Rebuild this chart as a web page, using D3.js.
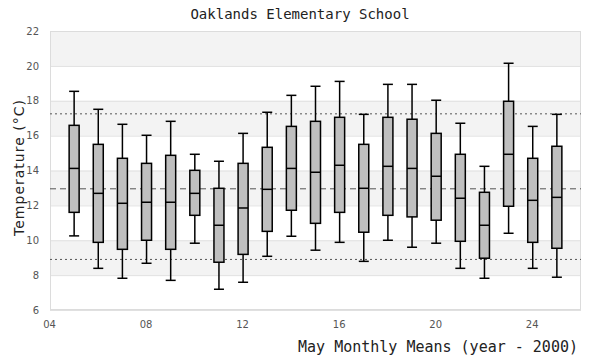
<!DOCTYPE html>
<html><head><meta charset="utf-8">
<script src="https://cdn.jsdelivr.net/npm/d3@7"></script>
<style>body{margin:0;background:#fff}svg{display:block}</style>
</head><body><svg id="c" width="600" height="360"></svg>
<script>
const years   = [5,6,7,8,9,10,11,12,13,14,15,16,17,18,19,20,21,22,23,24,25];
const whiskLo = [10.25,8.39,7.82,8.68,7.70,9.83,7.19,7.59,9.08,10.23,9.43,9.88,8.79,10.0,9.60,9.83,8.39,7.82,10.40,8.39,7.88];
const q1      = [11.60,9.88,9.48,10.0,9.48,11.43,8.74,9.19,10.51,11.72,10.97,11.60,10.46,11.43,11.34,11.15,9.94,8.97,11.95,9.88,9.54];
const medians = [14.12,12.69,12.12,12.18,12.18,12.69,10.86,11.85,12.92,14.12,13.90,14.30,12.98,14.24,14.12,13.67,12.41,10.86,14.93,12.29,12.46];
const q3      = [16.59,15.50,14.70,14.41,14.87,14.01,12.98,14.41,15.33,16.53,16.82,17.05,15.50,17.05,16.94,16.13,14.93,12.75,17.97,14.70,15.39];
const whiskHi = [18.54,17.51,16.65,16.02,16.82,14.93,14.53,16.13,17.34,18.31,18.83,19.11,17.22,18.94,18.94,18.03,16.71,14.24,20.15,16.53,17.22];
const refMean = 12.95, refHi = 17.25, refLo = 8.9;
const xTicks = [4,8,12,16,20,24];
const yTicks = [6,8,10,12,14,16,18,20,22];
const title = "Oaklands Elementary School";
const xTitle = "May Monthly Means (year - 2000)";
const yTitle = "Temperature (°C)";

const L=50,R=581,T=31,B=310;
const svg=d3.select("#c");
const x=d3.scaleLinear().domain([4,26]).range([L,R]);
const y=d3.scaleLinear().domain([6,22]).range([B,T]);
const mono="'DejaVu Sans Mono', monospace", sans="'DejaVu Sans', sans-serif";

// bands
const bands=[[20,22],[16,18],[12,14],[8,10]];
svg.append("g").selectAll("rect").data(bands).join("rect")
  .attr("x",L).attr("width",R-L).attr("y",d=>y(d[1])).attr("height",d=>y(d[0])-y(d[1]))
  .attr("fill","#f3f3f3");
// gridlines
svg.append("g").selectAll("line").data(yTicks).join("line")
  .attr("x1",L).attr("x2",R).attr("y1",d=>y(d)+0.5).attr("y2",d=>y(d)+0.5)
  .attr("stroke","#e0e0e0").attr("stroke-width",1);
svg.append("rect").attr("x",L+0.5).attr("y",T+0.5).attr("width",R-L-1).attr("height",B-T-1)
  .attr("fill","none").attr("stroke","#dcdcdc");

// reference lines
[[refHi,"2,3"],[refLo,"2,3"],[refMean,"6,4"]].forEach(([v,da])=>{
  svg.append("line").attr("x1",L).attr("x2",R).attr("y1",y(v)).attr("y2",y(v))
    .attr("stroke","#555").attr("stroke-width",1).attr("stroke-dasharray",da);
});

// axes
const yAx=svg.append("g").attr("transform",`translate(${L-11},0)`)
  .call(d3.axisLeft(y).tickValues(yTicks).tickSize(0).tickPadding(0).tickFormat(d3.format("d")));
yAx.select(".domain").remove();
yAx.selectAll("text").attr("font-family",sans).attr("font-size",10).attr("fill","#555");
const xAx=svg.append("g").attr("transform",`translate(-1,${B+8})`)
  .call(d3.axisBottom(x).tickValues(xTicks).tickSize(0).tickFormat(d=>String(d).padStart(2,"0")));
xAx.select(".domain").remove();
xAx.selectAll("text").attr("font-family",sans).attr("font-size",10).attr("fill","#555");

// boxes
const bw=10;
const g=svg.append("g");
const data=years.map((yr,i)=>({yr,lo:whiskLo[i],q1:q1[i],med:medians[i],q3:q3[i],hi:whiskHi[i]}));
const bx=g.selectAll("g").data(data).join("g");
bx.append("line").attr("x1",d=>x(d.yr)).attr("x2",d=>x(d.yr)).attr("y1",d=>y(d.hi)).attr("y2",d=>y(d.lo))
  .attr("stroke","#000").attr("stroke-width",1.5);
bx.append("line").attr("x1",d=>x(d.yr)-bw/2).attr("x2",d=>x(d.yr)+bw/2).attr("y1",d=>y(d.hi)).attr("y2",d=>y(d.hi))
  .attr("stroke","#000").attr("stroke-width",1.5);
bx.append("line").attr("x1",d=>x(d.yr)-bw/2).attr("x2",d=>x(d.yr)+bw/2).attr("y1",d=>y(d.lo)).attr("y2",d=>y(d.lo))
  .attr("stroke","#000").attr("stroke-width",1.5);
bx.append("rect").attr("x",d=>x(d.yr)-bw/2).attr("width",bw).attr("y",d=>y(d.q3)).attr("height",d=>y(d.q1)-y(d.q3))
  .attr("fill","#bfbfbf").attr("stroke","#000").attr("stroke-width",1.5);
bx.append("line").attr("x1",d=>x(d.yr)-bw/2).attr("x2",d=>x(d.yr)+bw/2).attr("y1",d=>y(d.med)).attr("y2",d=>y(d.med))
  .attr("stroke","#000").attr("stroke-width",1.5);

// titles
svg.append("text").attr("x",300).attr("y",18.5).attr("text-anchor","middle")
  .attr("font-family",mono).attr("font-size",14).attr("fill","#222").text(title);
svg.append("text").attr("x",578).attr("y",352).attr("text-anchor","end")
  .attr("font-family",mono).attr("font-size",15).attr("fill","#222").text(xTitle);
svg.append("text").attr("transform",`translate(24,${(T+B)/2-3}) rotate(-90)`).attr("text-anchor","middle")
  .attr("font-family",sans).attr("font-size",14).attr("fill","#222").attr("letter-spacing",1).text(yTitle);
</script></body></html>
